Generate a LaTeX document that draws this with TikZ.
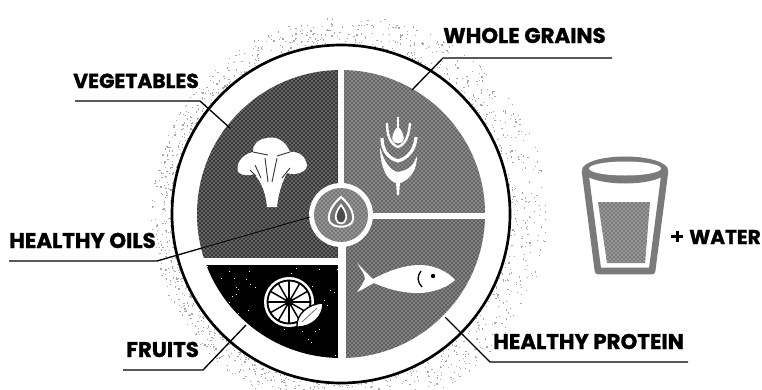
\documentclass[tikz,border=0pt]{standalone}
\usepackage{fontspec}
\setmainfont{Poppins}[BoldFeatures={FakeBold=1.2}]
\usepackage{xcolor}
\usetikzlibrary{calc, patterns}
\definecolor{vegA}{HTML}{383838}
\definecolor{grainA}{HTML}{666666}
\definecolor{protA}{HTML}{5E5E5E}
\definecolor{oilA}{HTML}{757575}
\definecolor{glassA}{HTML}{7A7A7A}
\definecolor{haloA}{HTML}{A8A8A8}
\tikzset{
  plabel/.style={font=\bfseries\fontsize{16}{17}\selectfont, anchor=base west, inner sep=0pt, text=black},
  leader/.style={draw=black, line width=1pt},
  icon/.style={fill=white, draw=none},
  speckle/.style={pattern=crosshatch dots, pattern color=white},
  thinblack/.style={draw=black, line width=0.6pt}
}
\begin{document}
\begin{tikzpicture}[x=0.75pt, y=-0.75pt]
  \useasboundingbox (0,0) rectangle (762,389);
  \fill[white] (0,0) rectangle (762,389);

  % stippled halo
  \pgfmathsetseed{7}
  \begin{scope}
  \clip (0,0) rectangle (762,389);
  \foreach \i in {1,...,1300}{
    \pgfmathsetmacro{\ang}{rnd*360}
    \pgfmathsetmacro{\rad}{170+pow(rnd,1.3)*(28+8*cos(\ang))}
    \fill[haloA] ({341+\rad*cos(\ang)}, {214+\rad*sin(\ang)}) rectangle ++(1.2,1.2);
  }
  \end{scope}

  % plate
  \draw[fill=white, line width=2pt] (341,214) circle (169);

  % quarters
  \begin{scope}
    \clip (341,214) circle (144);
    \fill[vegA] (190,60) rectangle (337.5,258);
    \fill[speckle] (190,60) rectangle (337.5,258);
    \fill[grainA] (344,60) rectangle (490,213);
    \fill[speckle] (344,60) rectangle (490,213);
    \fill[protA] (346,219) rectangle (490,370);
    \fill[speckle] (346,219) rectangle (490,370);
    \fill[black] (190,265) rectangle (338,370);
    \pgfmathsetseed{11}
    \foreach \i in {1,...,55}{
      \fill[white] ({205+rnd*133}, {265+rnd*95}) rectangle ++(0.9,0.9);
    }
  \end{scope}

  % oil circle
  \fill[white] (341,215) circle (32);
  \fill[oilA] (341,215) circle (27);
  \fill[speckle] (341,215) circle (27);
  \draw[white, line width=1.5pt, fill=oilA] (341,197) .. controls (349,204) and (354,212) .. (353,220)
    .. controls (351,229) and (331,229) .. (329,220) .. controls (328,212) and (333,204) .. (341,197) -- cycle;
  \draw[white, line width=1.3pt, fill=black!70] (341,205) .. controls (345,210) and (347,215) .. (346,219)
    .. controls (345,225) and (337,225) .. (336,219) .. controls (335,215) and (337,210) .. (341,205) -- cycle;

  % broccoli
  \fill[icon] (267,207) .. controls (266,195) and (262,182) .. (254,174)
    .. controls (250,176) and (242,176) .. (238,172) .. controls (236,165) and (240,155) .. (253,152)
    .. controls (252,145) and (258,139) .. (267,138) .. controls (274,136) and (285,139) .. (290,152)
    .. controls (298,151) and (306,156) .. (307,166) .. controls (306,172) and (296,176) .. (287,173)
    .. controls (282,182) and (278,195) .. (277,207) -- cycle;
  \draw[vegA, line width=0.7pt] (253,152) -- (268,155) (290,152) -- (277,156)
    (265,158) -- (268,182) (277,158) -- (272,182) (255,165) -- (261,178) (290,168) -- (282,178) (250,170) -- (256,176);

  % wheat
  \draw[white, line width=1.6pt] (398,117) -- (398,135);
  \fill[icon] (398,126) .. controls (403,132) and (405,138) .. (403,141) .. controls (401,144) and (395,144) .. (393,141) .. controls (391,138) and (393,132) .. (398,126) -- cycle;
  \draw[white, line width=1.8pt] (387,123) .. controls (387,135) and (390,144) .. (398,147) .. controls (406,144) and (409,135) .. (410,123);
  \draw[white, line width=2.4pt] (382,138) .. controls (382,150) and (388,158) .. (398,161) .. controls (408,158) and (415,150) .. (416,137);
  \fill[icon] (380,147) .. controls (380,165) and (386,180) .. (396,183) -- (397,195) -- (399,195) -- (400,183)
    .. controls (410,180) and (417,170) .. (417,156) -- (414,162) .. controls (411,168) and (405,171) .. (398,172)
    .. controls (391,171) and (384,163) .. (380,147) -- cycle;

  % fish
  \fill[icon] (357,263) .. controls (362,268) and (368,275) .. (373,279)
    .. controls (390,270) and (405,265) .. (420,265) .. controls (435,265) and (448,272) .. (455,280)
    .. controls (447,288) and (430,294) .. (413,293) .. controls (398,292) and (385,288) .. (374,283)
    .. controls (368,286) and (362,290) .. (357,292) .. controls (361,286) and (365,281) .. (365,278)
    .. controls (364,273) and (360,268) .. (357,263) -- cycle;
  \draw[black, line width=1pt] (421,271) .. controls (417,276) and (417,282) .. (422,287);
  \fill[black] (433,276) circle (2.2);

  % citrus
  \fill[white] (289,302) circle (25);
  \draw[black, line width=1.4pt] (289,302) circle (21.5);
  \foreach \a in {0,30,...,330}
    \draw[thinblack, line width=1.1pt] (289,302) -- ++(\a:21);
  \fill[black] (289,302) circle (4.5);
  \draw[black, line width=1pt, fill=white] (297,327) .. controls (296,315) and (307,304) .. (323,303) .. controls (323,316) and (313,327) .. (297,327) -- cycle;
  \draw[black!55, line width=0.6pt] (302,322) -- (317,308);

  % glass
  \draw[glassA, line width=5pt, fill=white, line join=round] (585,171) -- (598,271) -- (652,271) -- (665,171);
  \fill[glassA] (625,170) ellipse (43 and 13.5);
  \fill[white] (625,168.5) ellipse (36 and 7);
  \fill[glassA] (598,202) -- (650,202) -- (645,263) -- (607,263) -- cycle;
  \fill[speckle] (598,202) -- (650,202) -- (645,263) -- (607,263) -- cycle;

  % labels and leaders
  \coordinate (vegL) at (75,101);
  \coordinate (vegK) at (200,101);
  \coordinate (vegE) at (230,128);
  \draw[leader] (vegL) -- (vegK) -- (vegE);
  \node[plabel, font=\bfseries\fontsize{15.2}{16}\selectfont] (veg) at (73,88) {VEGETABLES};

  \coordinate (oilL) at (9,261);
  \coordinate (oilK) at (157,261);
  \coordinate (oilM) at (202,248);
  \coordinate (oilE) at (310,217);
  \draw[leader] (oilL) -- (oilK) -- (oilM);
  \draw[black, line width=0.6pt] (oilM) -- (oilE);
  \node[plabel] (oil) at (9,248) {HEALTHY OILS};

  \coordinate (fruL) at (123,370);
  \coordinate (fruK) at (203,370);
  \coordinate (fruE) at (246,325);
  \draw[leader] (fruL) -- (fruK) -- (fruE);
  \node[plabel] (fru) at (126,357) {FRUITS};

  \coordinate (graL) at (612,58);
  \coordinate (graK) at (443,58);
  \coordinate (graE) at (412,90);
  \draw[leader] (graL) -- (graK) -- (graE);
  \node[plabel] (gra) at (443,43) {WHOLE GRAINS};

  \coordinate (proL) at (688,362);
  \coordinate (proK) at (490,362);
  \coordinate (proE) at (445,317);
  \draw[leader] (proL) -- (proK) -- (proE);
  \node[plabel] (pro) at (493,349) {HEALTHY PROTEIN};

  \fill[black] (675.5,231) rectangle (678.5,242);
  \fill[black] (671,235) rectangle (683,238);
  \node[plabel, font=\bfseries\fontsize{15}{16}\selectfont] (wat) at (689,244) {WATER};
\end{tikzpicture}
\end{document}
